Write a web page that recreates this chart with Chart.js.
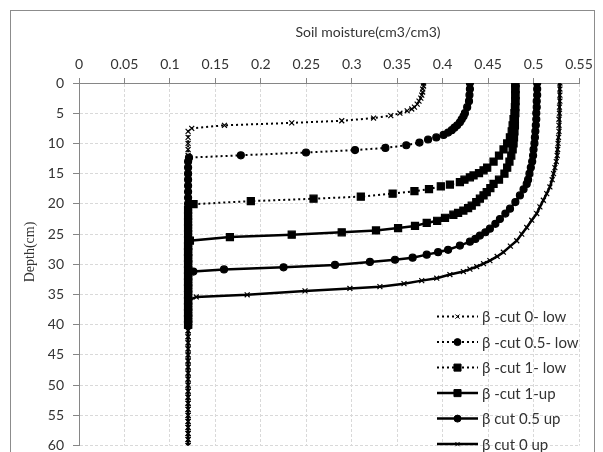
<!DOCTYPE html>
<html lang="en">
<head>
    <meta charset="UTF-8">
    <title>Soil moisture profiles</title>
    <script src="https://cdn.jsdelivr.net/npm/chart.js"></script>
    <style>
        body {
            margin: 0;
            background: #ffffff;
            overflow: hidden;
        }
        .frame {
            position: absolute;
            left: 10px;
            top: 10px;
            width: 583px;
            height: 460px;
            border: 1px solid #8c8c8c;
        }
        .chart-box {
            position: absolute;
            left: 0;
            top: 0;
            width: 603px;
            height: 463px; /* a bit taller than the window so the 60 cm line lands where the original has it */
        }
    </style>
</head>
<body>
    <div class="frame"></div>
    <div class="chart-box"><canvas id="moistureChart"></canvas></div>

    <script>
        // x axis ticks (soil moisture) and y axis ticks (depth)
        const moistureTicks = [0, 0.05, 0.1, 0.15, 0.2, 0.25, 0.3, 0.35, 0.4, 0.45, 0.5, 0.55];
        const depthTicks = [0, 5, 10, 15, 20, 25, 30, 35, 40, 45, 50, 55, 60];

        const seriesNames = ['β -cut 0- low', 'β -cut 0.5- low', 'β -cut 1- low', 'β -cut 1-up', 'β cut 0.5 up', 'β cut 0 up'];

        // initial moisture below the wetting front
        const initialMoisture = 0.12;
        const tailDepths = [8, 9, 10, 11, 12, 13, 14, 15, 16, 17, 18, 19, 20, 21, 22, 23, 24, 25, 26, 27, 28, 29, 30,
            31, 32, 33, 34, 35, 36, 37, 38, 39, 40, 41, 42, 43, 44, 45, 46, 47, 48, 49, 50, 51, 52, 53, 54, 55, 56, 57, 58, 59, 60];
        const maxDepth = [60, 40, 40, 40, 40, 60];

        // β -cut 0- low
        const low0Depth = [0, 0.5, 1, 1.5, 2, 2.5, 3, 3.5, 4, 4.3, 4.6, 5.0, 5.4, 5.8, 6.25, 6.6, 7.0, 7.5];
        const low0Moist = [0.379, 0.379, 0.378, 0.378, 0.377, 0.376, 0.374, 0.372, 0.369, 0.366, 0.361, 0.353, 0.343, 0.324, 0.289, 0.234, 0.160, 0.124];

        // β -cut 0.5- low
        const low05Depth = [0, 1, 2, 3, 4, 5, 5.5, 6, 6.5, 7, 7.4, 7.8, 8.2, 8.6, 9.0, 9.35, 9.85, 10.3, 10.75, 11.1, 11.5, 11.96, 12.35];
        const low05Moist = [0.430, 0.430, 0.4295, 0.429, 0.427, 0.4245, 0.423, 0.421, 0.419, 0.416, 0.413, 0.410, 0.406, 0.401, 0.393, 0.384, 0.3745, 0.360, 0.337, 0.3036, 0.2497, 0.178, 0.121];

        // β -cut 1- low
        const low1Depth = [0, 1, 2, 3, 4, 5, 6, 7, 8, 9, 10, 11, 12, 13, 14, 14.45, 14.9, 15.3, 15.6, 16.0, 16.4, 16.8, 17.1, 17.55, 17.9, 18.3, 18.8, 19.15, 19.55, 20.05];
        const low1Moist = [0.480, 0.480, 0.480, 0.480, 0.4795, 0.479, 0.478, 0.477, 0.476, 0.474, 0.471, 0.467, 0.462, 0.456, 0.449, 0.445, 0.440, 0.434, 0.430, 0.424, 0.419, 0.408, 0.398, 0.385, 0.369, 0.345, 0.310, 0.258, 0.189, 0.126];

        // β -cut 1-up
        const up1Depth = [0, 1, 2, 3, 4, 5, 6, 7, 8, 9, 10, 11, 12, 13, 14, 15, 16, 16.7, 17.4, 18.05, 18.6, 19.15, 19.7, 20.3, 20.7, 21.1, 21.5, 21.8, 22.3, 22.8, 23.15, 23.65, 24.0, 24.4, 24.7, 25.1, 25.5, 26.1];
        const up1Moist = [0.480, 0.480, 0.480, 0.480, 0.480, 0.480, 0.4795, 0.4795, 0.479, 0.4785, 0.478, 0.477, 0.4755, 0.4735, 0.471, 0.468, 0.462, 0.456, 0.4525, 0.4485, 0.445, 0.441, 0.437, 0.432, 0.428, 0.4228, 0.417, 0.4118, 0.4026, 0.394, 0.3825, 0.3696, 0.351, 0.3267, 0.289, 0.234, 0.166, 0.122];

        // β cut 0.5 up
        const up05Depth = [0, 1, 2, 3, 4, 5, 6, 7, 8, 9, 10, 11, 12, 13, 14, 15, 16, 16.7, 17.6, 18.6, 19.7, 20.8, 21.6, 22.5, 23.3, 24.1, 24.7, 25.25, 25.8, 26.25, 26.9, 27.6, 28.0, 28.4, 28.9, 29.25, 29.6, 30.1, 30.5, 30.85, 31.2];
        const up05Moist = [0.504, 0.504, 0.504, 0.5035, 0.5035, 0.503, 0.503, 0.5025, 0.502, 0.5015, 0.501, 0.500, 0.4995, 0.4985, 0.497, 0.4955, 0.494, 0.4925, 0.489, 0.485, 0.480, 0.4741, 0.469, 0.463, 0.458, 0.452, 0.447, 0.441, 0.436, 0.430, 0.419, 0.406, 0.395, 0.3825, 0.367, 0.3476, 0.320, 0.2816, 0.225, 0.1595, 0.1258];

        // β cut 0 up
        const up0Depth = [0, 1, 2, 3, 4, 5, 6, 7, 8, 9, 10, 11, 12, 13, 14, 15, 16, 17.2, 18.3, 19.4, 20.5, 21.6, 22.7, 23.9, 25, 26.1, 27, 28.0, 28.7, 29.4, 29.9, 30.4, 30.8, 31.2, 31.7, 32.3, 32.7, 33.2, 33.7, 34.0, 34.4, 35.05, 35.4];
        const up0Moist = [0.529, 0.529, 0.529, 0.529, 0.5285, 0.5285, 0.528, 0.528, 0.528, 0.5275, 0.527, 0.5265, 0.526, 0.525, 0.5235, 0.522, 0.5205, 0.518, 0.5145, 0.5108, 0.507, 0.5035, 0.498, 0.4925, 0.487, 0.4815, 0.4745, 0.4668, 0.460, 0.452, 0.445, 0.4375, 0.430, 0.4228, 0.408, 0.3935, 0.377, 0.3575, 0.331, 0.298, 0.2486, 0.185, 0.129];

        const depthSets = [low0Depth, low05Depth, low1Depth, up1Depth, up05Depth, up0Depth];
        const moistSets = [low0Moist, low05Moist, low1Moist, up1Moist, up05Moist, up0Moist];

        // line / marker look for each series
        const styles = [
            { dash: [2, 3], width: 2, point: 'crossRot', radius: 3.5 },
            { dash: [2, 3], width: 2, point: 'circle', radius: 3.5 },
            { dash: [2, 3], width: 2, point: 'rect', radius: 5 },
            { dash: [], width: 2.5, point: 'rect', radius: 5 },
            { dash: [], width: 2.5, point: 'circle', radius: 3.5 },
            { dash: [], width: 2.5, point: 'crossRot', radius: 3.5 }
        ];

        function buildPoints(i) {
            const d = depthSets[i];
            const m = moistSets[i];
            const pts = d.map((depth, k) => ({ x: m[k], y: depth }));
            const last = d[d.length - 1];
            tailDepths.filter(t => t > last + 0.3 && t <= maxDepth[i])
                .forEach(t => pts.push({ x: initialMoisture, y: t }));
            return pts;
        }

        const datasets = seriesNames.map((name, i) => ({
            label: name,
            data: buildPoints(i),
            showLine: true,
            borderColor: '#000000',
            backgroundColor: '#000000',
            borderWidth: styles[i].width,
            borderDash: styles[i].dash,
            pointStyle: styles[i].point,
            pointRadius: styles[i].radius,
            pointBorderWidth: 1.2,
            pointBackgroundColor: '#000000',
            pointBorderColor: '#000000',
            tension: 0
        }));

        // titles placed off-centre like the original, and a legend inside the plot
        const decorations = {
            id: 'decorations',
            afterDraw(chart) {
                const ctx = chart.ctx;
                const area = chart.chartArea;
                ctx.save();
                ctx.fillStyle = '#333333';
                ctx.textAlign = 'center';
                ctx.textBaseline = 'middle';
                ctx.font = '14px Lato';
                ctx.fillText('Soil moisture(cm3/cm3)', area.left + 289, 32);

                ctx.save();
                ctx.translate(30, 252);
                ctx.rotate(-Math.PI / 2);
                ctx.font = '14px "Liberation Serif"';
                ctx.fillText('Depth(cm)', 0, 0);
                ctx.restore();

                const x0 = area.right - 142;
                const x1 = area.right - 101;
                const y0 = area.bottom - 129;
                ctx.textAlign = 'left';
                ctx.font = '15px Lato';
                datasets.forEach((ds, i) => {
                    const y = y0 + i * 25.5;
                    ctx.strokeStyle = '#000000';
                    ctx.fillStyle = '#000000';
                    ctx.lineWidth = ds.borderWidth;
                    ctx.setLineDash(ds.borderDash);
                    ctx.beginPath();
                    ctx.moveTo(x0, y);
                    ctx.lineTo(x1, y);
                    ctx.stroke();
                    ctx.setLineDash([]);
                    ctx.lineWidth = 1;
                    Chart.helpers.drawPoint(ctx, {
                        pointStyle: ds.pointStyle,
                        radius: ds.pointStyle === 'crossRot' ? 3 : ds.pointRadius,
                        rotation: 0,
                        borderWidth: 1
                    }, (x0 + x1) / 2, y);
                    ctx.fillStyle = '#333333';
                    ctx.fillText(ds.label, x1 + 4, y + 1);
                });
                ctx.restore();
            }
        };

        const ctx = document.getElementById('moistureChart').getContext('2d');
        new Chart(ctx, {
            type: 'scatter',
            data: { datasets: datasets },
            options: {
                responsive: true,
                maintainAspectRatio: false,
                animation: false,
                layout: { padding: { left: 0, top: 0, right: 24, bottom: 0 } },
                plugins: {
                    legend: { display: false },
                    tooltip: { enabled: false }
                },
                scales: {
                    x: {
                        type: 'linear',
                        position: 'top',
                        min: moistureTicks[0],
                        max: moistureTicks[moistureTicks.length - 1],
                        afterBuildTicks: scale => {
                            scale.ticks = moistureTicks.map(v => ({ value: v }));
                        },
                        afterFit: scale => { scale.height = 83; },
                        ticks: {
                            color: '#333333',
                            font: { family: 'Lato', size: 14 },
                            padding: 5,
                            maxRotation: 0,
                            callback: v => String(Number(v.toFixed(2)))
                        },
                        grid: {
                            color: '#d9d9d9',
                            tickColor: '#868686',
                            tickLength: 5
                        },
                        border: { display: true, color: '#868686', dash: [3, 2] }
                    },
                    y: {
                        type: 'linear',
                        reverse: true,
                        min: depthTicks[0],
                        max: depthTicks[depthTicks.length - 1],
                        afterBuildTicks: scale => {
                            scale.ticks = depthTicks.map(v => ({ value: v }));
                        },
                        afterFit: scale => { scale.width = 79; },
                        ticks: {
                            color: '#333333',
                            font: { family: 'Lato', size: 14 },
                            padding: 9
                        },
                        grid: {
                            color: '#d9d9d9',
                            tickColor: '#868686',
                            tickLength: 6
                        },
                        border: { display: true, color: '#868686', dash: [3, 2] }
                    }
                }
            },
            plugins: [decorations]
        });
    </script>
</body>
</html>
